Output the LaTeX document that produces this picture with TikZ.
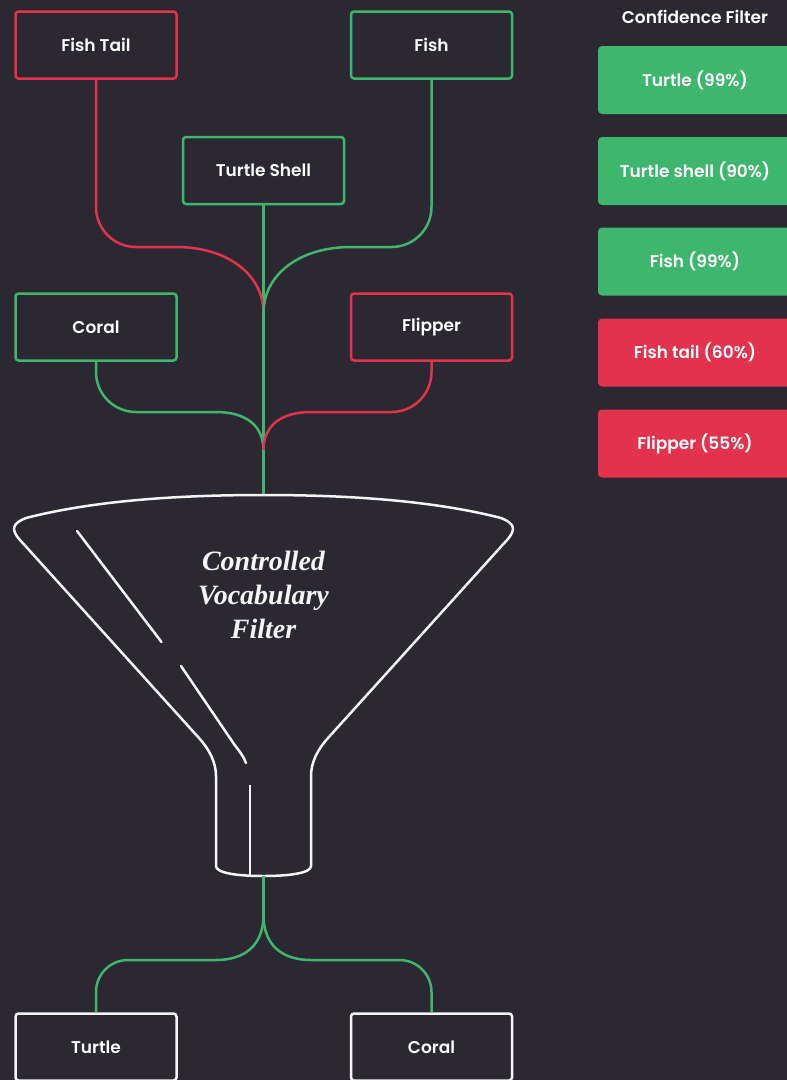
\documentclass[tikz,border=0pt]{standalone}
\usepackage{fontspec}
\setmainfont{Poppins}[BoldFont={Poppins SemiBold}]
\newfontfamily\funnelfont{Liberation Serif}
\definecolor{bg}{HTML}{2B2832}
\definecolor{okgreen}{HTML}{3FB66D}
\definecolor{badred}{HTML}{E3324E}
\definecolor{chalk}{HTML}{F4F4F4}
\tikzset{
  term/.style={draw, rounded corners=3pt, line width=2.5pt, minimum width=161pt, minimum height=67pt, inner sep=0pt, text=white, font=\bfseries\fontsize{17}{20}\selectfont},
  score/.style={rounded corners=4pt, minimum width=194pt, minimum height=68pt, inner sep=0pt, text=white, font=\bfseries\fontsize{17}{20}\selectfont},
  wire/.style={line width=2.5pt},
}
\begin{document}
\begin{tikzpicture}[x=1pt,y=-1pt]
\fill[bg] (0,0) rectangle (787,1080);
\useasboundingbox (0,0) rectangle (787,1080);

\node (fishtail) [term, draw=badred] at (96,45) {Fish Tail};
\node (fish) [term, draw=okgreen] at (431.5,45) {Fish};
\node (shell) [term, draw=okgreen] at (263.5,170.5) {Turtle Shell};
\node (coral) [term, draw=okgreen] at (96,327) {Coral};
\node (flipper) [term, draw=badred] at (431.5,327) {Flipper};
\node (turtle) [term, draw=chalk] at (96,1047) {Turtle};
\node (coralout) [term, draw=chalk] at (431.5,1047) {Coral};

\coordinate (upper) at (263.5,313);
\coordinate (lower) at (263.5,450);
\coordinate (rim) at (263.5,495);
\coordinate (spout) at (263.5,876);
\coordinate (fork) at (263.5,915);

\draw[wire, okgreen] (shell.south) -- (rim);
\draw[wire, badred, rounded corners=40pt] (fishtail.south) |- (176,247);
\draw[wire, badred] (176,247) .. controls (228,247) and (263.5,275) .. (upper);
\draw[wire, okgreen, rounded corners=40pt] (fish.south) |- (351,247);
\draw[wire, okgreen] (351,247) .. controls (299,247) and (263.5,275) .. (upper);
\draw[wire, okgreen, rounded corners=40pt] (coral.south) |- (216,412);
\draw[wire, okgreen] (216,412) .. controls (245,412) and (263.5,425) .. (lower);
\draw[wire, badred, rounded corners=40pt] (flipper.south) |- (311,412);
\draw[wire, badred] (311,412) .. controls (282,412) and (263.5,425) .. (lower);

\draw[wire, chalk, line join=round] (216,866) -- (216,776) .. controls (216,762) and (209,749) .. (199,738) -- (20,540) .. controls (10,529) and (13,523) .. (26,518) .. controls (100,499) and (190,495) .. (rim) .. controls (337,495) and (427,499) .. (501,518) .. controls (514,523) and (517,529) .. (507,540) -- (328,738) .. controls (318,749) and (311,762) .. (311,776) -- (311,866) .. controls (311,873) and (290,876) .. (spout) .. controls (237,876) and (216,873) .. (216,866) -- cycle;
\draw[wire, chalk, line cap=round] (77,531) -- (161.5,642);
\draw[wire, chalk, line cap=round] (181,666) -- (234,744) .. controls (240,752) and (244,757) .. (246,763);
\draw[wire, chalk] (250,785) -- (250,876);
\node (label) [text=chalk, align=center, font=\funnelfont\bfseries\itshape\fontsize{28}{34}\selectfont] at (263.5,595) {Controlled\\Vocabulary\\Filter};

\draw[wire, okgreen] (spout) -- (fork);
\draw[wire, okgreen] (fork) .. controls (263.5,945) and (245,960) .. (216,960);
\draw[wire, okgreen, rounded corners=32pt] (216,960) -| (turtle.north);
\draw[wire, okgreen] (fork) .. controls (263.5,945) and (282,960) .. (311,960);
\draw[wire, okgreen, rounded corners=32pt] (311,960) -| (coralout.north);

\node (heading) [text=white, font=\bfseries\fontsize{17}{20}\selectfont] at (695,17) {Confidence Filter};
\node (s1) [score, fill=okgreen] at (695,80) {Turtle (99\%)};
\node (s2) [score, fill=okgreen] at (695,171) {Turtle shell (90\%)};
\node (s3) [score, fill=okgreen] at (695,261.5) {Fish (99\%)};
\node (s4) [score, fill=badred] at (695,352.5) {Fish tail (60\%)};
\node (s5) [score, fill=badred] at (695,443.5) {Flipper (55\%)};
\end{tikzpicture}
\end{document}
